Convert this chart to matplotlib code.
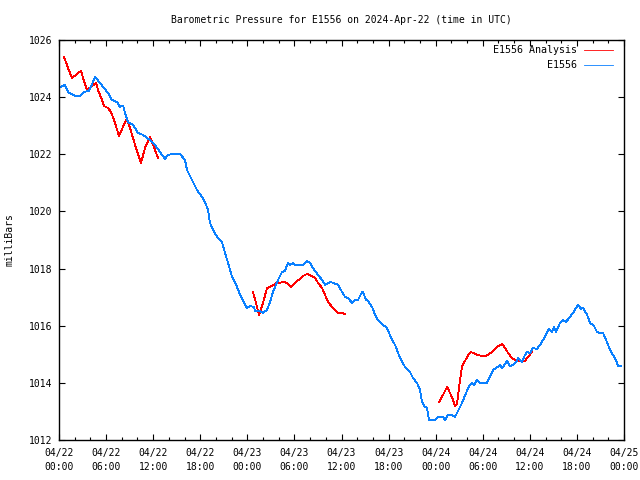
import matplotlib
matplotlib.use("Agg")
import matplotlib.pyplot as plt
import numpy as np

# hours since 2024-04-22 00:00 UTC, pressure in mb
obs_hours = [0, 0.76, 1.15, 2.04, 2.68, 3.19, 3.82, 4.21, 4.59, 5.22, 5.73, 6.24, 6.75, 7.39, 7.77, 8.16,
             8.41, 8.79, 9.43, 10.07, 10.70, 11.60, 12.23, 12.87, 13.51, 13.89, 14.40, 15.42, 16.06, 16.31,
             16.95, 17.59, 18.22, 18.61, 18.99, 19.24, 19.63, 20.14, 20.77, 21.15, 21.54, 22.05, 22.68,
             23.07, 23.70, 23.96, 24.34, 24.85, 24.98, 25.61, 25.99, 26.50, 26.89, 27.27, 27.91, 28.42,
             28.80, 29.18, 29.44, 29.82, 30.08, 31.10, 31.60, 31.99, 32.37, 33.01, 33.52, 33.90, 34.54,
             34.92, 35.56, 36.07, 36.45, 36.83, 37.34, 37.72, 38.10, 38.61, 38.74, 39.12, 39.38, 39.89,
             40.27, 40.65, 40.91, 41.29, 41.80, 42.44, 42.82, 43.45, 44.09, 44.73, 45.11, 45.62, 46.00,
             46.26, 46.64, 46.90, 47.15, 47.92, 48.30, 48.94, 49.19, 49.57, 50.08, 50.46, 50.85, 51.36,
             51.99, 52.38, 52.63, 52.89, 53.27, 53.65, 54.54, 54.93, 55.31, 55.94, 56.20, 56.46, 56.58,
             57.09, 57.47, 57.86, 58.37, 58.49, 59.00, 59.38, 59.64, 60.02, 60.41, 60.91, 61.30, 61.93,
             62.44, 62.83, 63.08, 63.34, 63.85, 64.23, 64.61, 64.99, 65.50, 66.14, 66.52, 66.78, 67.29,
             67.67, 68.18, 68.56, 68.94, 69.32, 69.83, 70.22, 70.60, 71.11, 71.24, 71.62]
obs_values = [1024.32, 1024.43, 1024.18, 1024.04, 1024.04, 1024.18, 1024.22, 1024.46, 1024.71, 1024.50,
              1024.32, 1024.15, 1023.90, 1023.83, 1023.66, 1023.71, 1023.45, 1023.13, 1023.03, 1022.75,
              1022.68, 1022.50, 1022.33, 1022.08, 1021.84, 1021.98, 1022.01, 1022.01, 1021.80, 1021.45,
              1021.10, 1020.75, 1020.51, 1020.33, 1020.05, 1019.60, 1019.35, 1019.11, 1018.93, 1018.55,
              1018.20, 1017.71, 1017.36, 1017.08, 1016.73, 1016.62, 1016.69, 1016.66, 1016.52, 1016.52,
              1016.45, 1016.55, 1016.83, 1017.18, 1017.60, 1017.88, 1017.92, 1018.20, 1018.13, 1018.20,
              1018.13, 1018.13, 1018.27, 1018.20, 1018.02, 1017.78, 1017.60, 1017.43, 1017.53, 1017.50,
              1017.43, 1017.18, 1017.01, 1016.97, 1016.80, 1016.90, 1016.90, 1017.18, 1017.18, 1016.90,
              1016.87, 1016.66, 1016.38, 1016.20, 1016.13, 1016.03, 1015.92, 1015.50, 1015.33, 1014.87,
              1014.56, 1014.38, 1014.17, 1014.00, 1013.75, 1013.33, 1013.16, 1013.12, 1012.70, 1012.70,
              1012.80, 1012.80, 1012.70, 1012.88, 1012.88, 1012.80, 1013.02, 1013.30, 1013.72, 1013.93,
              1014.00, 1013.93, 1014.10, 1014.00, 1014.00, 1014.21, 1014.45, 1014.56, 1014.63, 1014.52,
              1014.56, 1014.77, 1014.59, 1014.63, 1014.77, 1014.87, 1014.73, 1014.98, 1015.08, 1015.05,
              1015.22, 1015.19, 1015.33, 1015.61, 1015.89, 1015.78, 1015.96, 1015.78, 1016.10, 1016.20,
              1016.13, 1016.27, 1016.45, 1016.73, 1016.59, 1016.62, 1016.38, 1016.10, 1015.99, 1015.78,
              1015.75, 1015.75, 1015.43, 1015.15, 1014.98, 1014.70, 1014.59, 1014.59]

ana1_hours = [0.64, 1.15, 1.66, 2.29, 2.80, 3.06, 3.57, 4.08, 4.72, 4.97, 5.48, 5.73, 6.24, 6.63, 7.01,
              7.65, 8.16, 8.67, 9.05, 9.69, 10.45, 10.96, 11.60, 11.98, 12.62]
ana1_values = [1025.41, 1025.02, 1024.67, 1024.81, 1024.92, 1024.67, 1024.25, 1024.36, 1024.50, 1024.25,
               1023.90, 1023.69, 1023.62, 1023.48, 1023.20, 1022.64, 1022.96, 1023.24, 1022.92, 1022.33,
               1021.70, 1022.22, 1022.61, 1022.33, 1021.87]
ana2_hours = [24.72, 25.10, 25.49, 26.00, 26.51, 27.14, 27.78, 28.16, 28.55, 29.06, 29.57, 30.08, 30.71,
              31.09, 31.60, 32.24, 32.62, 33.01, 33.52, 33.90, 34.28, 34.79, 35.17, 35.56, 36.07, 36.45]
ana2_values = [1017.18, 1016.80, 1016.38, 1016.80, 1017.32, 1017.39, 1017.50, 1017.50, 1017.53, 1017.50,
               1017.36, 1017.50, 1017.64, 1017.74, 1017.81, 1017.74, 1017.67, 1017.50, 1017.32, 1017.08,
               1016.83, 1016.66, 1016.55, 1016.45, 1016.45, 1016.41]
ana3_hours = [48.43, 48.94, 49.45, 50.08, 50.46, 50.72, 51.10, 51.36, 51.74, 52.25, 52.50, 53.27, 53.91,
              54.42, 55.18, 55.82, 56.46, 56.84, 57.22, 57.73, 58.37, 59.38, 59.77, 60.28]
ana3_values = [1013.33, 1013.58, 1013.86, 1013.50, 1013.19, 1013.26, 1014.10, 1014.56, 1014.77, 1015.01,
               1015.08, 1014.98, 1014.94, 1014.94, 1015.08, 1015.26, 1015.36, 1015.22, 1015.05, 1014.87,
               1014.77, 1014.77, 1014.91, 1015.08]

xtick_hours = [0, 6, 12, 18, 24, 30, 36, 42, 48, 54, 60, 66, 72]
xtick_labels = ["04/22\n00:00", "04/22\n06:00", "04/22\n12:00", "04/22\n18:00",
                "04/23\n00:00", "04/23\n06:00", "04/23\n12:00", "04/23\n18:00",
                "04/24\n00:00", "04/24\n06:00", "04/24\n12:00", "04/24\n18:00",
                "04/25\n00:00"]
ytick_values = [1012, 1014, 1016, 1018, 1020, 1022, 1024, 1026]

plt.rcParams['font.family'] = ['DejaVu Sans Mono']
plt.rcParams['font.size'] = 7

fig = plt.figure(figsize=(6.4, 4.8), dpi=100)
ax = fig.add_axes([59/640, 40/480, 565/640, 400/480])

red = '#ff0000'
blue = '#0a80ff'
lw = 0.6
ax.plot(ana1_hours, ana1_values, color=red, lw=lw, label='E1556 Analysis', antialiased=False)
ax.plot(ana2_hours, ana2_values, color=red, lw=lw, antialiased=False)
ax.plot(ana3_hours, ana3_values, color=red, lw=lw, antialiased=False)
ax.plot(obs_hours, obs_values, color=blue, lw=lw, label='E1556', antialiased=False)

ax.set_xlim(0, 72)
ax.set_ylim(1012, 1026)
ax.set_xticks(xtick_hours)
ax.set_xticklabels(xtick_labels, linespacing=1.5)
ax.set_xticks(np.arange(0, 73, 2), minor=True)
ax.set_yticks(ytick_values)
ax.set_yticklabels([str(v) for v in ytick_values])

ax.tick_params(axis='both', which='both', direction='in', top=True, right=True, width=0.8, color='black')
ax.tick_params(axis='both', which='major', length=4.5)
ax.tick_params(axis='both', which='minor', length=2.5)
ax.tick_params(axis='x', which='major', pad=6)
ax.tick_params(axis='y', which='major', pad=5)
for s in ax.spines.values():
    s.set_linewidth(1.0)

ax.set_ylabel('milliBars', labelpad=10)
ax.set_title('Barometric Pressure for E1556 on 2024-Apr-22 (time in UTC)', fontsize=7, pad=12)

leg = ax.legend(loc='upper right', bbox_to_anchor=(0.987, 0.997), frameon=False, markerfirst=False,
                handlelength=2.9, handletextpad=0.7, labelspacing=0.5, borderaxespad=0.0, fontsize=7.2)

fig.savefig('out.png', dpi=100)
